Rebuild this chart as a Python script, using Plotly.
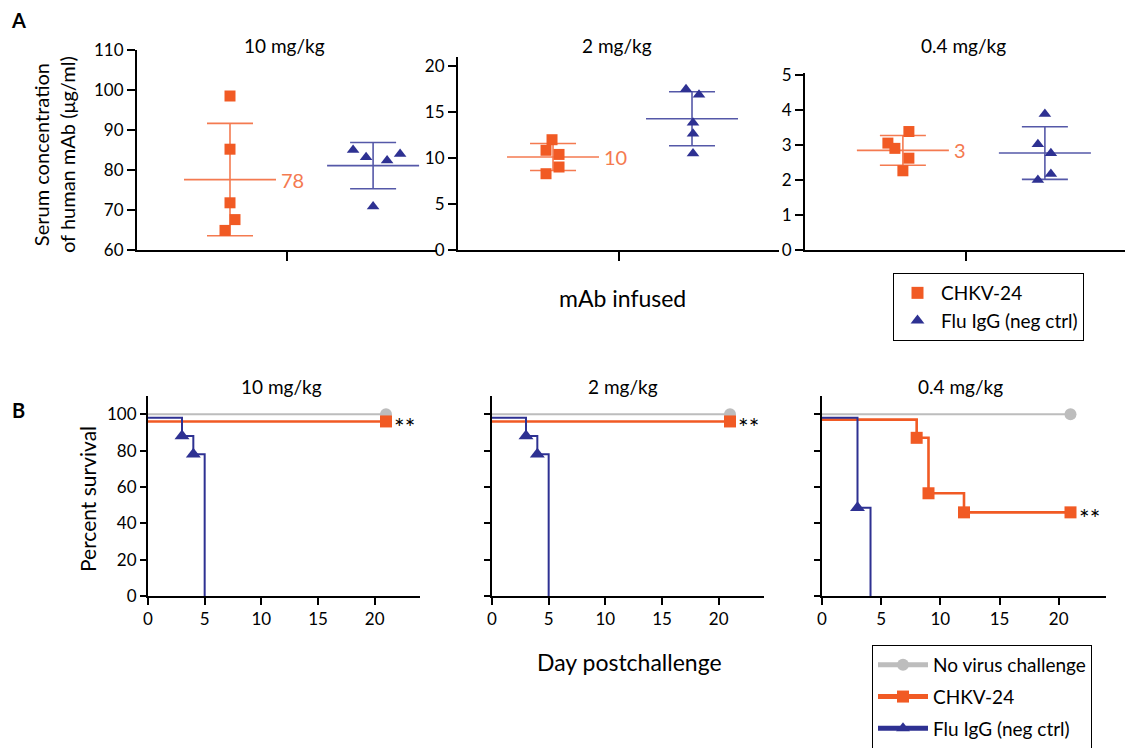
import numpy as np
import plotly.graph_objects as go

W, H = 1133, 748

# ---------------- DATA ----------------
doses = ["10 mg/kg", "2 mg/kg", "0.4 mg/kg"]
group_names = ["CHKV-24", "Flu IgG (neg ctrl)"]
control_name = "No virus challenge"

# Panel A: serum concentration of human mAb (µg/ml), 5 mice per group
chkv_conc_10 = [98.5, 85.2, 71.8, 67.6, 64.9]
flu_conc_10 = [85.0, 83.2, 82.4, 84.0, 70.9]
chkv_conc_2 = [12.0, 10.85, 10.4, 9.03, 8.3]
flu_conc_2 = [17.5, 16.9, 13.85, 12.65, 10.5]
chkv_conc_04 = [3.38, 3.05, 2.9, 2.62, 2.26]
flu_conc_04 = [3.88, 3.02, 2.76, 2.17, 2.0]

A_yticks_10 = [60, 70, 80, 90, 100, 110]
A_yticks_2 = [0, 5, 10, 15, 20]
A_yticks_04 = [0, 1, 2, 3, 4, 5]

# Panel B: percent survival (Kaplan-Meier steps, plotted with GraphPad offsets)
nov_days = [0, 21]
nov_surv = [100, 100]
chkv_days_10 = [0, 21]
chkv_surv_10 = [96, 96]
flu_days_10 = [0, 3, 4, 5]
flu_surv_10 = [98, 88, 78, 0]
chkv_days_2 = [0, 21]
chkv_surv_2 = [96, 96]
flu_days_2 = [0, 3, 4, 5]
flu_surv_2 = [98, 88, 78, 0]
chkv_days_04 = [0, 8, 9, 12, 21]
chkv_surv_04 = [97, 87, 56.5, 46, 46]
flu_days_04 = [0, 3, 4.1]
flu_surv_04 = [98, 48.5, 0]

B_xticks = [0, 5, 10, 15, 20]
B_yticks = [0, 20, 40, 60, 80, 100]
signif = "**"

# ---------------- STYLE / LAYOUT CONSTANTS ----------------
FONT = "Lato"
ORANGE = "#F15A24"
ORANGE_LINE = "#F47A50"
BLUE = "#2E3192"
BLUE_LINE = "#5558A8"
GRAY = "#BDBDBD"
PAGE_OFFSET = 8  # the page body margin shifts the figure by this many px

def fx(p):
    return (p - PAGE_OFFSET) / W

def fy(p):
    return 1 - (p - PAGE_OFFSET) / H

A_dom_px = [(137, 437), (458, 779), (805, 1127)]
A_top_px = [50, 57, 73]
A_bottom_px = 250
A_ranges = [[60, 110], [0, 21], [0, 5.05]]
A_centers = [(0.31, 0.787), (0.296, 0.729), (0.304, 0.745)]
A_jitter_px = [
    ([0, 0, 0, 5, -5], [-20, -7, 14, 27, 0]),
    ([-1, -7, 6, 6, -7], [-6, 7, 1, 1, 1]),
    ([6, -15, -8, 6, 0], [0, -7, 6, 6, -7]),
]
A_title_px = [(284, 46), (617, 46), (963, 46)]

B_dom_px = [(148, 420), (492, 764), (822, 1106)]
B_top_px, B_bottom_px = 396, 596
B_title_px = [(281, 386), (623, 386), (960, 386)]

A_data = [(chkv_conc_10, flu_conc_10, A_yticks_10),
          (chkv_conc_2, flu_conc_2, A_yticks_2),
          (chkv_conc_04, flu_conc_04, A_yticks_04)]
B_data = [(chkv_days_10, chkv_surv_10, flu_days_10, flu_surv_10),
          (chkv_days_2, chkv_surv_2, flu_days_2, flu_surv_2),
          (chkv_days_04, chkv_surv_04, flu_days_04, flu_surv_04)]

fig = go.Figure()
annotations = []

axis_style = dict(showline=True, linecolor="black", linewidth=2, ticks="outside",
                  tickcolor="black", tickwidth=2, showgrid=False, zeroline=False,
                  automargin=False,
                  tickfont=dict(family=FONT, size=17, color="black"), fixedrange=True)

def refs(k):
    return ("x" if k == 1 else f"x{k}", "y" if k == 1 else f"y{k}")

# ---------------- PANEL A ----------------
for i, (chkv, flu, yt) in enumerate(A_data):
    k = i + 1
    xr, yr = refs(k)
    x0, x1 = A_dom_px[i]
    dw = x1 - x0
    mh, ch = 46 / dw, 23 / dw
    for g, (vals, color, lcolor, sym, size) in enumerate([
            (chkv, ORANGE, ORANGE_LINE, "square", 11),
            (flu, BLUE, BLUE_LINE, "triangle-up", 11)]):
        c = A_centers[i][g]
        v = np.array(vals, dtype=float)
        m, s = v.mean(), v.std(ddof=1)
        fig.add_trace(go.Scatter(
            x=[c - mh, c + mh, None, c - ch, c + ch, None, c - ch, c + ch, None, c, c],
            y=[m, m, None, m + s, m + s, None, m - s, m - s, None, m - s, m + s],
            mode="lines", line=dict(color=lcolor, width=1.6), xaxis=xr, yaxis=yr,
            showlegend=False, hoverinfo="skip"))
        fig.add_trace(go.Scatter(
            x=[c + o / dw for o in A_jitter_px[i][g]], y=vals, mode="markers",
            marker=dict(symbol=sym, size=size, color=color, opacity=1, line=dict(width=0)),
            name=group_names[g], xaxis=xr, yaxis=yr, legend="legend",
            legendgroup=f"A{g}", showlegend=(i == 0)))
        if g == 0:
            annotations.append(dict(x=c + mh + 3 / dw, y=m, xref=xr, yref=yr,
                                    text=str(int(round(m))), showarrow=False,
                                    xanchor="left", yanchor="middle",
                                    font=dict(family=FONT, size=20, color=ORANGE_LINE)))
    lay_x = dict(axis_style, domain=[fx(x0), fx(x1)], range=[0, 1], anchor=yr,
                 tickvals=[0.5], ticktext=[""], ticklen=9)
    lay_y = dict(axis_style, domain=[fy(A_bottom_px), fy(A_top_px[i])], range=A_ranges[i],
                 anchor=xr, tickvals=yt, ticklen=8)
    fig.layout["xaxis" if k == 1 else f"xaxis{k}"] = lay_x
    fig.layout["yaxis" if k == 1 else f"yaxis{k}"] = lay_y
    tx, ty = A_title_px[i]
    annotations.append(dict(x=fx(tx), y=fy(ty), xref="paper", yref="paper", text=doses[i],
                            showarrow=False, xanchor="center", yanchor="middle",
                            font=dict(family=FONT, size=19, color="black")))

# ---------------- PANEL B ----------------
for j, (cd, cs, fd, fs) in enumerate(B_data):
    k = j + 4
    xr, yr = refs(k)
    first = (j == 0)
    fig.add_trace(go.Scatter(
        x=nov_days, y=nov_surv, mode="lines+markers", line=dict(color=GRAY, width=2, shape="hv"),
        marker=dict(symbol="circle", size=[0] * (len(nov_days) - 1) + [12], color=GRAY,
                    opacity=1, line=dict(width=0)),
        name=control_name, xaxis=xr, yaxis=yr, legend="legend2", legendgroup="B0",
        showlegend=first))
    fig.add_trace(go.Scatter(
        x=cd, y=cs, mode="lines+markers", line=dict(color=ORANGE, width=2.6, shape="hv"),
        marker=dict(symbol="square", size=[0] + [12] * (len(cd) - 1), color=ORANGE,
                    opacity=1, line=dict(width=0)),
        name=group_names[0], xaxis=xr, yaxis=yr, legend="legend2", legendgroup="B1",
        showlegend=first))
    fig.add_trace(go.Scatter(
        x=fd, y=fs, mode="lines+markers", line=dict(color=BLUE, width=2, shape="hv"),
        marker=dict(symbol="triangle-up", size=[0] + [13] * (len(fd) - 2) + [0], color=BLUE,
                    opacity=1, line=dict(width=0)),
        name=group_names[1], xaxis=xr, yaxis=yr, legend="legend2", legendgroup="B2",
        showlegend=first))
    annotations.append(dict(x=cd[-1], y=cs[-1], xref=xr, yref=yr, text=signif,
                            showarrow=False, xanchor="left", yanchor="middle",
                            xshift=6, yshift=-6,
                            font=dict(family=FONT, size=25, color="black")))
    x0, x1 = B_dom_px[j]
    fig.layout["xaxis" + str(k)] = dict(axis_style, domain=[fx(x0), fx(x1)], range=[0, 24],
                                        anchor=yr, tickvals=B_xticks, ticklen=7)
    fig.layout["yaxis" + str(k)] = dict(axis_style, domain=[fy(B_bottom_px), fy(B_top_px)],
                                        range=[0, 110], anchor=xr, tickvals=B_yticks,
                                        ticklen=6, showticklabels=first)
    tx, ty = B_title_px[j]
    annotations.append(dict(x=fx(tx), y=fy(ty), xref="paper", yref="paper", text=doses[j],
                            showarrow=False, xanchor="center", yanchor="middle",
                            font=dict(family=FONT, size=19, color="black")))

# ---------------- TEXT ----------------
def paper_text(text, px, py, size, angle=0, bold=False, anchor="center"):
    annotations.append(dict(x=fx(px), y=fy(py), xref="paper", yref="paper",
                            text=f"<b>{text}</b>" if bold else text, showarrow=False,
                            textangle=angle, xanchor=anchor, yanchor="middle",
                            font=dict(family=FONT, size=size, color="black")))

paper_text("A", 18, 20, 20, bold=True)
paper_text("B", 18, 410, 20, bold=True)
paper_text("Serum concentration<br>of human mAb (μg/ml)", 54, 155, 20, angle=-90)
paper_text("mAb infused", 622, 298, 23)
paper_text("Percent survival", 88, 499, 21, angle=-90)
paper_text("Day postchallenge", 629, 662, 23)

fig.update_layout(
    width=W, height=H, margin=dict(l=0, r=0, t=0, b=0, autoexpand=False),
    paper_bgcolor="white", plot_bgcolor="white",
    annotations=annotations,
    font=dict(family=FONT, size=16, color="black"),
    legend=dict(x=fx(893), y=fy(273), xanchor="left", yanchor="top",
                bordercolor="black", borderwidth=1, bgcolor="white",
                font=dict(family=FONT, size=19, color="black"),
                tracegroupgap=0, itemsizing="constant", itemwidth=37,
                entrywidth=208, entrywidthmode="pixels"),
    legend2=dict(x=fx(872), y=fy(645), xanchor="left", yanchor="top",
                 bordercolor="black", borderwidth=1, bgcolor="white",
                 font=dict(family=FONT, size=19, color="black"),
                 tracegroupgap=4, itemsizing="constant", itemwidth=50,
                 entrywidth=229, entrywidthmode="pixels"),
)

fig.write_html("out.html")
